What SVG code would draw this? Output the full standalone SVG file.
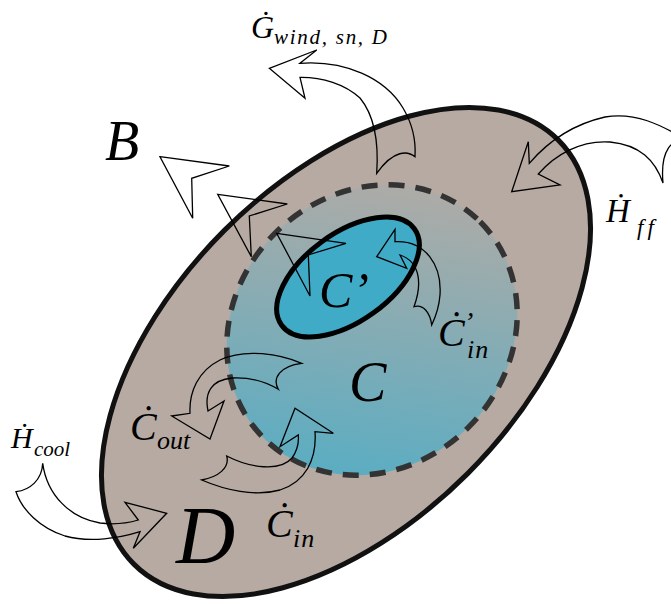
<svg xmlns="http://www.w3.org/2000/svg" width="671" height="604" viewBox="0 0 671 604">
<style>
.t{font-family:"Liberation Serif","DejaVu Serif",serif;font-style:italic;fill:#000}
.ar{fill:none;stroke:#000;stroke-width:1.3;stroke-linejoin:miter}
</style>
<defs>
<linearGradient id="gC" gradientUnits="userSpaceOnUse" x1="235" y1="430" x2="500" y2="240">
<stop offset="0" stop-color="#55adc4"/>
<stop offset="1" stop-color="#b0aba6"/>
</linearGradient>
</defs>
<rect width="671" height="604" fill="#fff"/>
<g id="regionD">
<ellipse cx="346" cy="352" rx="300" ry="172" transform="rotate(-45 346 352)" fill="#b6aaa2" stroke="#111" stroke-width="5"/>
<text class="t" x="176" y="563" font-size="82">D</text>
</g>
<g id="regionC">
<ellipse cx="372" cy="330" rx="153" ry="137" transform="rotate(-45 372 330)" fill="url(#gC)" stroke="#333" stroke-width="5.5" stroke-dasharray="16 11"/>
<text class="t" x="349" y="401" font-size="56">C</text>
</g>
<g id="regionCp">
<ellipse cx="348" cy="277" rx="82" ry="44" transform="rotate(-36 348 277)" fill="#3fabc7" stroke="#000" stroke-width="5"/>
<text class="t" x="319" y="307" font-size="50">C’</text>
</g>
<g id="labelB"><text class="t" x="105" y="160" font-size="56">B</text></g>
<g id="connectors">
<path id="arrowG" class="ar" d="M269.3,68.3 L316.7,50 L300,63.3 C345,60 385,78 403,108 C412,123 416,140 415,156.7 C408,151 394,149 376.7,173.3 C379,140 374,115 360,98 C345,84 322,77 300,77.3 L305,98.3 Z"/>
<path id="arrowHff" class="ar" d="M511.7,191.7 L528.3,141.7 L529.3,163.3 C545,145 570,125 605,117 C635,112 660,124 688,141 C672,137 660,150 663,183 C655,160 640,145 610,142 C580,140 555,155 538.3,174 L560,185 Z"/>
<path id="arrowHcool" class="ar" d="M42.7,463.3 C47,495 70,518 100,523 C115,525 128,523 138.3,520 L125,502.3 L166.7,513.3 L133.3,548.3 L140,531.7 C120,538 90,543 65,536 C40,528 22,510 16,491.7 C30,490 42,480 42.7,463.3 Z"/>
<path id="chevron1" class="ar" d="M160,156.7 L229.3,166 L191.7,178.3 L192.7,218.3 Z"/>
<path id="chevron2" class="ar" d="M217.7,194.3 L287.3,204 L249.3,216 L251.3,256.7 Z"/>
<path id="chevron3" class="ar" d="M276.7,233.3 L346,243.3 L308.3,255 L310,296 Z"/>
<path id="arrowCpin" class="ar" d="M376.7,256.7 L395,229.3 L395,241.7 C425,240 442,265 440,295 C439,308 436,316 431.7,325 C430,312 423,304 414,306.7 C422,285 421,262 400,255 L406.7,268.3 Z"/>
<path id="arrowCout" class="ar" d="M301.7,363.3 C280,354 245,348 220,360 C198,371 189,392 190,413.3 L171.7,416 L210,439 L224,401 L208,411 C204,392 212,380 232,378 C250,377 266,382 278.3,389.3 C272,378 280,366 301.7,363.3 Z"/>
<path id="arrowCin" class="ar" d="M226.7,456 C250,468 280,472 292,458 C297,451 299,443 298.3,435 L280,446.7 L295,408.3 L333.3,433.3 L315,431.7 C317,460 305,482 280,490 C255,497 225,490 201.7,480 C218,477 230,468 226.7,456 Z"/>
</g>
<g id="labelG"><text class="t" x="251" y="38" font-size="32">Ġ<tspan x="274" y="44" font-size="21" textLength="113" lengthAdjust="spacing">wind, sn, D</tspan></text></g>
<g id="labelHff"><text class="t" x="606" y="222" font-size="33">Ḣ<tspan x="637" y="235" font-size="23" letter-spacing="4">ff</tspan></text></g>
<g id="labelHcool"><text class="t" x="11" y="448" font-size="30">Ḣ<tspan x="34" y="456" font-size="21">cool</tspan></text></g>
<g id="labelCout"><text class="t" x="130" y="440" font-size="40">Ċ<tspan x="157" y="449" font-size="26">out</tspan></text></g>
<g id="labelCin"><text class="t" x="266" y="537" font-size="40">Ċ<tspan x="293" y="547" font-size="26" letter-spacing="1">in</tspan></text></g>
<g id="labelCpin"><text class="t" x="438" y="346" font-size="40">Ċ<tspan x="464" y="331" font-size="28">’</tspan><tspan x="467" y="358" font-size="26" letter-spacing="1">in</tspan></text></g>
</svg>
